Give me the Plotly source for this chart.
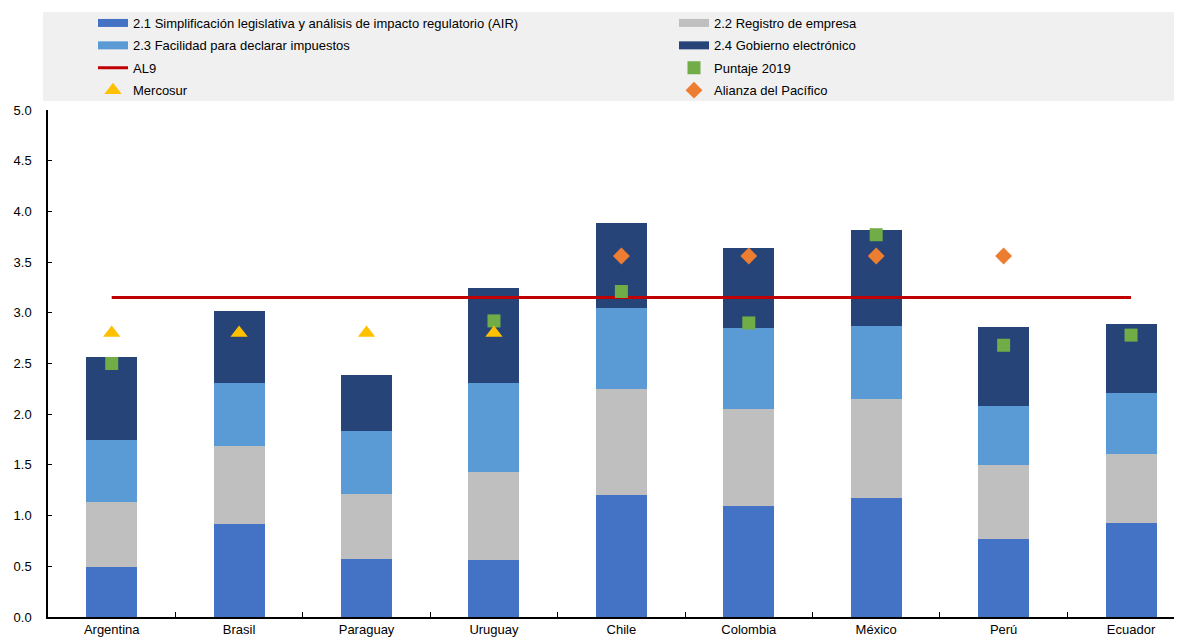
import plotly.graph_objects as go

paises = ["Argentina", "Brasil", "Paraguay", "Uruguay", "Chile", "Colombia", "México", "Perú", "Ecuador"]

air = [0.49, 0.92, 0.57, 0.56, 1.20, 1.09, 1.17, 0.77, 0.93]
registro = [0.64, 0.77, 0.64, 0.87, 1.05, 0.96, 0.98, 0.73, 0.68]
impuestos = [0.62, 0.62, 0.62, 0.88, 0.80, 0.80, 0.72, 0.58, 0.60]
gobierno = [0.81, 0.71, 0.56, 0.93, 0.84, 0.79, 0.95, 0.78, 0.68]

al9 = 3.15
puntaje_2019 = [2.50, None, None, 2.92, 3.21, 2.90, 3.77, 2.68, 2.78]
mercosur = [2.80, 2.80, 2.80, 2.80, None, None, None, None, None]
alianza = [None, None, None, None, 3.56, 3.56, 3.56, 3.56, None]

nombres_barras = [
    "2.1 Simplificación legislativa y análisis de impacto regulatorio (AIR)",
    "2.2 Registro de empresa",
    "2.3 Facilidad para declarar impuestos",
    "2.4 Gobierno electrónico",
]
colores_barras = ["#4472C4", "#BFBFBF", "#5B9BD5", "#264478"]
legend_de_barra = ["legend", "legend2", "legend", "legend2"]

FONT = "Liberation Sans, Arial, sans-serif"
FS = 13

fig = go.Figure()

for nombre, vals, col in zip(nombres_barras, [air, registro, impuestos, gobierno], colores_barras):
    fig.add_trace(go.Bar(x=paises, y=vals, name=nombre, marker=dict(color=col, line=dict(width=0)),
                         width=0.4, showlegend=False))

# legend entries with wide bar-like symbols
for i, (nombre, col, lg) in enumerate(zip(nombres_barras, colores_barras, legend_de_barra)):
    fig.add_trace(go.Scatter(x=[None], y=[None], mode="lines", name=nombre, legend=lg,
                             legendgroup=f"g{i}", legendrank=i,
                             line=dict(color=col, width=8)))

fig.add_trace(go.Scatter(x=[paises[0], paises[-1]], y=[al9, al9], mode="lines", name="AL9",
                         legend="legend", legendgroup="g4", legendrank=4,
                         line=dict(color="#C00000", width=3)))
fig.add_trace(go.Scatter(x=paises, y=puntaje_2019, mode="markers", name="Puntaje 2019",
                         legend="legend2", legendgroup="g5", legendrank=5,
                         marker=dict(symbol="square", size=13, color="#70AD47")))
fig.add_trace(go.Scatter(x=paises, y=mercosur, mode="markers", name="Mercosur",
                         legend="legend", legendgroup="g6", legendrank=6,
                         marker=dict(symbol="triangle-up", size=15, color="#FFC000")))
fig.add_trace(go.Scatter(x=paises, y=alianza, mode="markers", name="Alianza del Pacífico",
                         legend="legend2", legendgroup="g7", legendrank=7,
                         marker=dict(symbol="diamond", size=13, color="#ED7D31")))

# the page body adds an 8 px offset; figure sized so it fills the window
OFF = 8
W, H = 1182 - OFF, 641 - OFF
ml, mr, mt, mb = 48 - OFF, 0, 110 - OFF, 641 - 617
pw = W - ml - mr
ph = H - mt - mb

fig.add_shape(type="rect", xref="paper", yref="paper",
              x0=(43 - OFF - ml) / pw, x1=1.0,
              y0=(H - mb - (101 - OFF)) / ph, y1=(H - mb - (12 - OFF)) / ph,
              fillcolor="#F0F0F0", line=dict(width=0), layer="below")

leg_common = dict(orientation="v", xref="container", yref="container",
                  xanchor="left", yanchor="top", bgcolor="rgba(0,0,0,0)",
                  tracegroupgap=2.5, traceorder="grouped", itemwidth=30,
                  font=dict(family=FONT, size=FS, color="#000000"))

fig.update_layout(
    width=W, height=H,
    margin=dict(l=ml, r=mr, t=mt, b=mb, autoexpand=False),
    paper_bgcolor="white", plot_bgcolor="white",
    barmode="stack",
    font=dict(family=FONT, size=FS, color="#000000"),
    legend=dict(x=(133 - OFF - 40) / W, y=1.0, **leg_common),
    legend2=dict(x=(714 - OFF - 40) / W, y=1.0, **leg_common),
    xaxis=dict(range=[-0.5, 8.4], showline=True, linecolor="black", linewidth=1.5,
               ticks="inside", ticklen=5, tickcolor="black", tickson="boundaries",
               showgrid=False, automargin=False, ticklabelstandoff=0,
               tickfont=dict(size=FS)),
    yaxis=dict(range=[0, 5], dtick=0.5, tickformat=".1f", showline=True, linecolor="black",
               linewidth=1.5, ticks="inside", ticklen=4, tickcolor="black",
               showgrid=False, zeroline=False, automargin=False, ticklabelstandoff=12,
               tickfont=dict(size=FS)),
)

fig.write_html("out.html")
